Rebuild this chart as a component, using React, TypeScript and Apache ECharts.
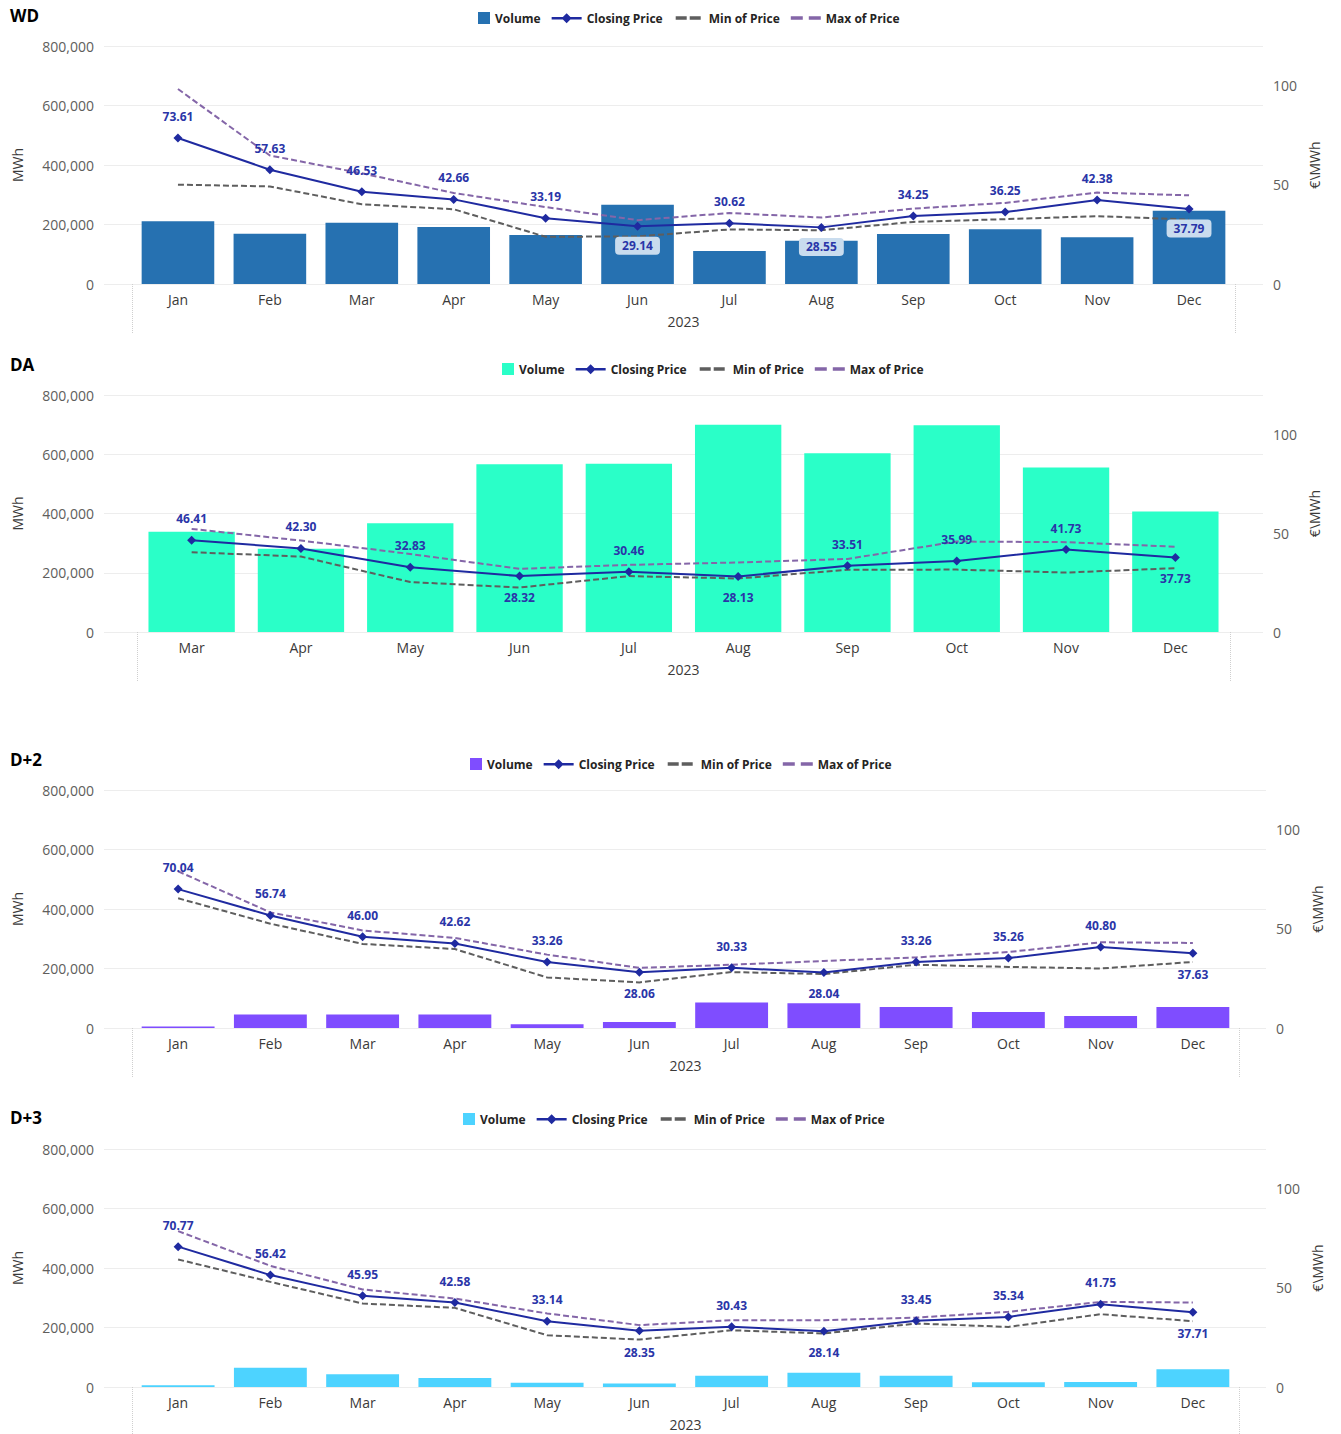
import React, { useEffect, useRef } from "react";
import * as echarts from "echarts";

// ---------- data ----------
const MONTHS = ["Jan", "Feb", "Mar", "Apr", "May", "Jun", "Jul", "Aug", "Sep", "Oct", "Nov", "Dec"];
const DA_MONTHS = ["Mar", "Apr", "May", "Jun", "Jul", "Aug", "Sep", "Oct", "Nov", "Dec"];
const YEAR = "2023";

const NAME_VOLUME = "Volume";
const NAME_CLOSE = "Closing Price";
const NAME_MIN = "Min of Price";
const NAME_MAX = "Max of Price";
const LEFT_AXIS_NAME = "MWh";
const RIGHT_AXIS_NAME = "€\\MWh";

const VOLUME_MAX = 800000;
const VOLUME_STEP = 200000;
const PRICE_MAX = 120;
const PRICE_STEP = 50;

const WD_VOLUME = [211000, 169000, 206000, 192000, 165000, 266000, 111000, 145000, 168000, 184000, 157000, 246000];
const WD_CLOSE = [73.61, 57.63, 46.53, 42.66, 33.19, 29.14, 30.62, 28.55, 34.25, 36.25, 42.38, 37.79];
const WD_MIN = [50.1, 49.2, 40.2, 37.7, 23.8, 24.0, 27.5, 27.1, 31.3, 32.7, 34.2, 32.5];
const WD_MAX = [98.3, 64.8, 55.8, 45.9, 38.8, 32.2, 35.8, 33.5, 38.0, 40.9, 46.1, 44.7];

const DA_VOLUME = [338000, 281000, 367000, 566000, 568000, 700000, 603000, 698000, 555000, 407000];
const DA_CLOSE = [46.41, 42.3, 32.83, 28.32, 30.46, 28.13, 33.51, 35.99, 41.73, 37.73];
const DA_MIN = [40.4, 38.2, 25.3, 22.5, 28.3, 27.1, 31.5, 31.6, 30.1, 32.3];
const DA_MAX = [52.2, 46.3, 39.5, 32.0, 34.0, 35.2, 37.0, 45.8, 45.5, 43.2];

const D2_VOLUME = [5000, 45000, 45000, 45000, 13000, 20000, 86000, 83000, 71000, 54000, 40000, 71000];
const D2_CLOSE = [70.04, 56.74, 46.0, 42.62, 33.26, 28.06, 30.33, 28.04, 33.26, 35.26, 40.8, 37.63];
const D2_MIN = [65.4, 52.6, 42.4, 39.8, 25.5, 23.0, 28.2, 27.2, 31.9, 30.8, 30.0, 33.3];
const D2_MAX = [79.0, 58.3, 49.2, 45.4, 37.0, 30.3, 31.9, 33.8, 35.6, 38.3, 43.2, 42.9];

const D3_VOLUME = [5600, 65000, 42600, 30000, 14700, 11400, 38000, 48000, 38000, 15700, 17000, 59500];
const D3_CLOSE = [70.77, 56.42, 45.95, 42.58, 33.14, 28.35, 30.43, 28.14, 33.45, 35.34, 41.75, 37.71];
const D3_MIN = [64.3, 53.0, 42.1, 39.9, 26.1, 23.9, 28.6, 27.0, 32.0, 30.3, 36.7, 33.2];
const D3_MAX = [78.6, 61.1, 49.2, 44.6, 37.1, 31.2, 33.7, 33.7, 35.0, 37.9, 42.9, 42.6];

// ---------- layout / style ----------
const FONT = "'Segoe UI', 'Open Sans', 'Noto Sans', sans-serif";
const CLOSE_COLOR = "#1F2AA0";
const LABEL_COLOR = "#2A35A8";
const MIN_COLOR = "#5E5E5E";
const MAX_COLOR = "#8466A8";
const GRID_COLOR = "#EDEDED";
const FRAME_LEFT = 104;

// legend icons (bounding box forced to 30x12 by degenerate corner points)
const ICON_SQUARE = "path://M0,0L0,0.01M30,12L30,11.99M18,0H30V12H18Z";
const ICON_CLOSE = "path://M0,0L0,0.01M30,12L30,11.99M0,5H30V7.4H0ZM15,1.2L20,6.2L15,11.2L10,6.2Z";
const ICON_MIN = "path://M0,0L0,0.01M30,12L30,11.99M2,4.3H13V7.7H2ZM16,4.3H27V7.7H16Z";
const ICON_MAX = "path://M0,0L0,0.01M30,12L30,11.99M0,4.3H12V7.7H0ZM18,4.3H30V7.7H18Z";

const PANELS = [
  { title: "WD", cats: MONTHS, vol: WD_VOLUME, close: WD_CLOSE, min: WD_MIN, max: WD_MAX, color: "#2671B1",
    top: 46, bottom: 284, frameRight: 1263, dataLeft: 132, dataRight: 1235, legendLeft: 460, legendTop: 12, titleTop: 7, boxed: true },
  { title: "DA", cats: DA_MONTHS, vol: DA_VOLUME, close: DA_CLOSE, min: DA_MIN, max: DA_MAX, color: "#2AFFC8",
    top: 395, bottom: 632, frameRight: 1263, dataLeft: 137, dataRight: 1230, legendLeft: 484, legendTop: 363, titleTop: 356, boxed: false },
  { title: "D+2", cats: MONTHS, vol: D2_VOLUME, close: D2_CLOSE, min: D2_MIN, max: D2_MAX, color: "#7F4DFF",
    top: 790, bottom: 1028, frameRight: 1266, dataLeft: 132, dataRight: 1239, legendLeft: 452, legendTop: 758, titleTop: 751, boxed: false },
  { title: "D+3", cats: MONTHS, vol: D3_VOLUME, close: D3_CLOSE, min: D3_MIN, max: D3_MAX, color: "#4DD3FF",
    top: 1149, bottom: 1387, frameRight: 1266, dataLeft: 132, dataRight: 1239, legendLeft: 445, legendTop: 1113, titleTop: 1109, boxed: false },
];

function buildOption() {
  const grid: any[] = [];
  const xAxis: any[] = [];
  const yAxis: any[] = [];
  const series: any[] = [];
  const legend: any[] = [];
  const title: any[] = [];

  PANELS.forEach((p) => {
    const h = p.bottom - p.top;
    const fg = grid.length;
    grid.push({ left: FRAME_LEFT, width: p.frameRight - FRAME_LEFT, top: p.top, height: h });
    const dg = grid.length;
    grid.push({ left: p.dataLeft, width: p.dataRight - p.dataLeft, top: p.top, height: h });

    xAxis.push({ type: "value", gridIndex: fg, show: false, min: 0, max: 1 });
    const cx = xAxis.length;
    xAxis.push({
      type: "category", gridIndex: dg, data: p.cats, position: "bottom",
      axisLine: { show: false }, axisTick: { show: false }, splitLine: { show: false },
      axisLabel: { interval: 0, margin: 8, fontSize: 14, color: "#3B3A39", fontFamily: FONT },
    });
    xAxis.push({
      type: "category", gridIndex: dg, data: [YEAR], position: "bottom",
      axisLine: { show: false }, splitLine: { show: false },
      axisTick: { show: true, length: 50, lineStyle: { type: "dotted", color: "#CFCFCF", width: 1 } },
      axisLabel: { margin: 30, fontSize: 14, color: "#3B3A39", fontFamily: FONT },
    });

    yAxis.push({
      type: "value", gridIndex: fg, position: "left", min: 0, max: VOLUME_MAX, interval: VOLUME_STEP,
      axisLine: { show: false }, axisTick: { show: false },
      splitLine: { show: true, lineStyle: { color: GRID_COLOR, width: 1 } },
      axisLabel: { margin: 10, fontSize: 14, color: "#605E5C", fontFamily: FONT,
        formatter: (v: number) => v.toLocaleString("en-US") },
      name: LEFT_AXIS_NAME, nameLocation: "middle", nameRotate: 90, nameGap: 80,
      nameTextStyle: { fontSize: 14, color: "#3B3A39", fontFamily: FONT },
    });
    yAxis.push({
      type: "value", gridIndex: fg, position: "right", min: 0, max: PRICE_MAX, interval: PRICE_STEP,
      axisLine: { show: false }, axisTick: { show: false }, splitLine: { show: false },
      axisLabel: { margin: 10, fontSize: 14, color: "#605E5C", fontFamily: FONT, showMaxLabel: false },
      name: RIGHT_AXIS_NAME, nameLocation: "middle", nameRotate: 90, nameGap: 35,
      nameTextStyle: { fontSize: 14, color: "#3B3A39", fontFamily: FONT },
    });
    const dyl = yAxis.length;
    yAxis.push({ type: "value", gridIndex: dg, position: "left", min: 0, max: VOLUME_MAX, interval: VOLUME_STEP, show: false, splitLine: { show: false } });
    const dyr = yAxis.length;
    yAxis.push({ type: "value", gridIndex: dg, position: "right", min: 0, max: PRICE_MAX, interval: PRICE_STEP, show: false, splitLine: { show: false } });

    series.push({
      type: "bar", name: NAME_VOLUME, xAxisIndex: cx, yAxisIndex: dyl, data: p.vol,
      barCategoryGap: "21%", itemStyle: { color: p.color }, z: 2,
    });
    series.push({
      type: "line", name: NAME_MIN, xAxisIndex: cx, yAxisIndex: dyr, data: p.min,
      symbol: "none", lineStyle: { color: MIN_COLOR, width: 2, type: [6, 3] }, itemStyle: { color: MIN_COLOR }, z: 3,
    });
    series.push({
      type: "line", name: NAME_MAX, xAxisIndex: cx, yAxisIndex: dyr, data: p.max,
      symbol: "none", lineStyle: { color: MAX_COLOR, width: 2, type: [6, 3] }, itemStyle: { color: MAX_COLOR }, z: 3,
    });
    const below = p.close.map((v, i, a) => {
      const prev = a[i - 1];
      const next = a[i + 1];
      return (prev === undefined || v < prev) && (next === undefined || v < next);
    });
    series.push({
      type: "line", name: NAME_CLOSE, xAxisIndex: cx, yAxisIndex: dyr,
      symbol: "diamond", symbolSize: 9, z: 4,
      lineStyle: { color: CLOSE_COLOR, width: 2 }, itemStyle: { color: CLOSE_COLOR },
      label: {
        show: true, fontSize: 12, fontWeight: "bold", color: LABEL_COLOR, fontFamily: FONT,
        formatter: (prm: any) => Number(prm.value).toFixed(2),
      },
      data: p.close.map((v, i) => ({
        value: v,
        label: below[i]
          ? p.boxed
            ? { position: "bottom", distance: 6, backgroundColor: "#C9DCEE", borderRadius: 4, padding: [3, 7] }
            : { position: "bottom", distance: 11 }
          : { position: "top", distance: 11 },
      })),
    });

    legend.push({
      left: p.legendLeft, top: p.legendTop, padding: 0, itemWidth: 30, itemHeight: 12, itemGap: 11,
      selectedMode: false,
      textStyle: { fontSize: 12, fontWeight: "bold", color: "#252423", fontFamily: FONT },
      data: [
        { name: NAME_VOLUME, icon: ICON_SQUARE, itemStyle: { color: p.color } },
        { name: NAME_CLOSE, icon: ICON_CLOSE, itemStyle: { color: CLOSE_COLOR } },
        { name: NAME_MIN, icon: ICON_MIN, itemStyle: { color: MIN_COLOR } },
        { name: NAME_MAX, icon: ICON_MAX, itemStyle: { color: MAX_COLOR } },
      ],
    });

    title.push({
      text: p.title, left: 10, top: p.titleTop, padding: 0,
      textStyle: { fontSize: 17, fontWeight: "bold", color: "#000", fontFamily: FONT },
    });
  });

  return {
    animation: false,
    backgroundColor: "#ffffff",
    textStyle: { fontFamily: FONT },
    title, legend, grid, xAxis, yAxis, series,
  };
}

export default function App() {
  const ref = useRef<HTMLDivElement>(null);
  useEffect(() => {
    document.body.style.margin = "0";
    document.body.style.overflow = "hidden";
    if (!ref.current) return;
    const chart = echarts.init(ref.current, undefined, { renderer: "svg" });
    chart.setOption(buildOption() as any);
    return () => chart.dispose();
  }, []);
  return <div ref={ref} style={{ position: "absolute", left: 0, top: 0, width: 1341, height: 1434 }} />;
}
